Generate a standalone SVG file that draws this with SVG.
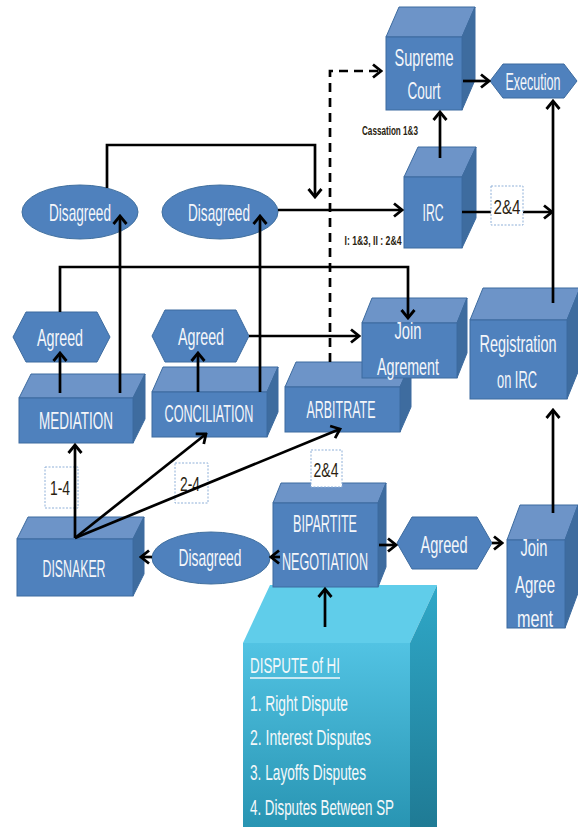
<svg xmlns="http://www.w3.org/2000/svg" width="578" height="827" viewBox="0 0 578 827">
<style>
.top{fill:#6d94c8;stroke:#3d6b9f;stroke-width:1}
.side{fill:#3e6c9f;stroke:#3d6b9f;stroke-width:1}
.front{fill:#4f81bd;stroke:#3d6b9f;stroke-width:1}
.ell{fill:#4f81bd;stroke:#41709f;stroke-width:1}
.t{font-family:"Liberation Sans Narrow","Liberation Sans",sans-serif;font-size:24px;fill:#f4f6fa;text-anchor:middle;dominant-baseline:central}
.lb{fill:#fff;stroke:#8fb0d8;stroke-width:1;stroke-dasharray:2,1.5}
.lt{font-family:"Liberation Sans Narrow","Liberation Sans",sans-serif;font-size:21px;fill:#2a1e10;text-anchor:middle;dominant-baseline:central}
.st{font-family:"Liberation Sans Narrow","Liberation Sans",sans-serif;font-size:13px;font-weight:bold;fill:#2a1e10;text-anchor:middle;dominant-baseline:central}
.ca{fill:none;stroke:#000;stroke-width:2.7;marker-end:url(#ah)}
.dt{font-family:"Liberation Sans Narrow","Liberation Sans",sans-serif;font-size:22px;fill:#f4f8fa;dominant-baseline:central}
</style>
<defs>
<marker id="ah" markerUnits="userSpaceOnUse" markerWidth="12" markerHeight="16" viewBox="0 0 12 16" refX="10" refY="8" orient="auto">
<path d="M2,1.5 L10,8 L2,14.5" fill="none" stroke="#000" stroke-width="2.8"/>
</marker>
<linearGradient id="cf" x1="0" y1="0" x2="0" y2="1"><stop offset="0" stop-color="#52c3e3"/><stop offset="1" stop-color="#2793b1"/></linearGradient>
<linearGradient id="cs" x1="0" y1="0" x2="0" y2="1"><stop offset="0" stop-color="#2fa8c8"/><stop offset="1" stop-color="#1f7a94"/></linearGradient>
</defs>

<g id="dispute">
<polygon points="243,643 270,585 437,585 410,643" fill="#60cdea"/>
<polygon points="410,643 437,585 437,830 410,830" fill="url(#cs)"/>
<rect x="243" y="643" width="167" height="190" fill="url(#cf)"/>
<text class="dt" x="250" y="665" textLength="90" lengthAdjust="spacingAndGlyphs">DISPUTE  of HI</text>
<line x1="250" y1="678" x2="340" y2="678" stroke="#f4f8fa" stroke-width="1.5"/>
<text class="dt" x="250" y="703" textLength="98" lengthAdjust="spacingAndGlyphs">1. Right Dispute</text>
<text class="dt" x="250" y="737" textLength="121" lengthAdjust="spacingAndGlyphs">2. Interest Disputes</text>
<text class="dt" x="250" y="772" textLength="116" lengthAdjust="spacingAndGlyphs">3. Layoffs Disputes</text>
<text class="dt" x="250" y="807" textLength="144" lengthAdjust="spacingAndGlyphs">4. Disputes Between SP</text>
</g>

<g id="supreme">
<polygon class="top" points="386,37 399,7 475,7 462,37"/>
<polygon class="side" points="462,37 475,7 475,80 462,110"/>
<rect class="front" x="386" y="37" width="76" height="73"/>
<text class="t" x="424" y="57" textLength="59" lengthAdjust="spacingAndGlyphs">Supreme</text>
<text class="t" x="424" y="90" textLength="33" lengthAdjust="spacingAndGlyphs">Court</text>
</g>

<g id="execution">
<polygon class="front" points="490,81 503,64 564,64 577,81 564,98 503,98"/>
<text class="t" x="533" y="81" textLength="55" lengthAdjust="spacingAndGlyphs">Execution</text>
</g>

<g id="irc">
<polygon class="top" points="404,177 418,147 476,147 462,177"/>
<polygon class="side" points="462,177 476,147 476,218 462,248"/>
<rect class="front" x="404" y="177" width="58" height="71"/>
<text class="t" x="433" y="212" textLength="21" lengthAdjust="spacingAndGlyphs">IRC</text>
</g>

<g id="disagreed1">
<ellipse class="ell" cx="80" cy="212" rx="58" ry="27"/>
<text class="t" x="80" y="212" textLength="62" lengthAdjust="spacingAndGlyphs">Disagreed</text>
</g>
<g id="disagreed2">
<ellipse class="ell" cx="220" cy="212" rx="58" ry="27"/>
<text class="t" x="219" y="212" textLength="62" lengthAdjust="spacingAndGlyphs">Disagreed</text>
</g>

<g id="agreed1">
<polygon class="front" points="13,337 26,312 97,312 110,337 97,362 26,362"/>
<text class="t" x="60" y="337" textLength="46" lengthAdjust="spacingAndGlyphs">Agreed</text>
</g>
<g id="agreed2">
<polygon class="front" points="152,336 165,310 236,310 249,336 236,362 165,362"/>
<text class="t" x="201" y="336" textLength="46" lengthAdjust="spacingAndGlyphs">Agreed</text>
</g>

<g id="mediation">
<polygon class="top" points="19,398 31,374 145,374 133,398"/>
<polygon class="side" points="133,398 145,374 145,419 133,443"/>
<rect class="front" x="19" y="398" width="114" height="45"/>
<text class="t" x="76" y="420" textLength="74" lengthAdjust="spacingAndGlyphs">MEDIATION</text>
</g>

<g id="conciliation">
<polygon class="top" points="152,392 163,367 278,367 267,392"/>
<polygon class="side" points="267,392 278,367 278,412 267,437"/>
<rect class="front" x="152" y="392" width="115" height="45"/>
<text class="t" x="209" y="413" textLength="89" lengthAdjust="spacingAndGlyphs">CONCILIATION</text>
</g>

<g id="arbitrate">
<polygon class="top" points="285,387 296,362 411,362 400,387"/>
<polygon class="side" points="400,387 411,362 411,407 400,432"/>
<rect class="front" x="285" y="387" width="115" height="45"/>
<text class="t" x="341" y="409" textLength="69" lengthAdjust="spacingAndGlyphs">ARBITRATE</text>
</g>

<g id="join1">
<polygon class="top" points="362,323 372,298 467,298 457,323"/>
<polygon class="side" points="457,323 467,298 467,353 457,378"/>
<rect class="front" x="362" y="323" width="95" height="55"/>
<text class="t" x="408" y="330" textLength="27" lengthAdjust="spacingAndGlyphs">Join</text>
<text class="t" x="408" y="366" textLength="62" lengthAdjust="spacingAndGlyphs">Agrement</text>
</g>

<g id="registration">
<polygon class="top" points="470,320 483,288 580,288 567,320"/>
<polygon class="side" points="567,320 580,288 580,367 567,399"/>
<rect class="front" x="470" y="320" width="97" height="79"/>
<text class="t" x="518" y="343" textLength="77" lengthAdjust="spacingAndGlyphs">Registration</text>
<text class="t" x="517" y="379" textLength="40" lengthAdjust="spacingAndGlyphs">on IRC</text>
</g>

<g id="disnaker">
<polygon class="top" points="17,539 28,517 144,517 133,539"/>
<polygon class="side" points="133,539 144,517 144,574 133,596"/>
<rect class="front" x="17" y="539" width="116" height="57"/>
<text class="t" x="74" y="568" textLength="63" lengthAdjust="spacingAndGlyphs">DISNAKER</text>
</g>

<g id="disagreed3">
<ellipse class="ell" cx="211" cy="558" rx="59" ry="26"/>
<text class="t" x="210" y="557" textLength="63" lengthAdjust="spacingAndGlyphs">Disagreed</text>
</g>

<g id="bipartite">
<polygon class="top" points="273,503 281,483 386,483 378,503"/>
<polygon class="side" points="378,503 386,483 386,567 378,587"/>
<rect class="front" x="273" y="503" width="105" height="84"/>
<text class="t" x="325" y="523" textLength="64" lengthAdjust="spacingAndGlyphs">BIPARTITE</text>
<text class="t" x="325" y="561" textLength="86" lengthAdjust="spacingAndGlyphs">NEGOTIATION</text>
</g>

<g id="agreed3">
<polygon class="front" points="397,543 412,517 477,517 492,543 477,569 412,569"/>
<text class="t" x="444" y="544" textLength="47" lengthAdjust="spacingAndGlyphs">Agreed</text>
</g>

<g id="join2">
<polygon class="top" points="507,540 520,505 578,505 565,540"/>
<polygon class="side" points="565,540 578,505 578,593 565,628"/>
<rect class="front" x="507" y="540" width="58" height="88"/>
<text class="t" x="534" y="547" textLength="27" lengthAdjust="spacingAndGlyphs">Join</text>
<text class="t" x="535" y="584" textLength="40" lengthAdjust="spacingAndGlyphs">Agree</text>
<text class="t" x="535" y="618" textLength="36" lengthAdjust="spacingAndGlyphs">ment</text>
</g>

<g id="label-1-4">
<rect class="lb" x="45" y="467" width="33" height="41"/>
<text class="lt" x="60" y="487" textLength="20" lengthAdjust="spacingAndGlyphs">1-4</text>
</g>
<g id="label-2-4">
<rect class="lb" x="175" y="463" width="33" height="40"/>
<text class="lt" x="190" y="483" textLength="20" lengthAdjust="spacingAndGlyphs">2-4</text>
</g>
<g id="label-2and4-bottom">
<rect class="lb" x="311" y="450" width="31" height="37"/>
<text class="lt" x="326" y="469" textLength="25" lengthAdjust="spacingAndGlyphs">2&amp;4</text>
</g>

<g id="connectors">
<path class="ca" d="M330,362 V71 H381" stroke-dasharray="9,6"/>
<path class="ca" d="M463,81 H489"/>
<path class="ca" d="M440,158 V112"/>
<path class="ca" d="M553,303 V101"/>
<path class="ca" d="M462,212 H552"/>
<path class="ca" d="M107,188 V145 H315 V197"/>
<path class="ca" d="M278,210 H402"/>
<path class="ca" d="M120,393 V216"/>
<path class="ca" d="M260,392 V216"/>
<path class="ca" d="M60,312 V267 H408 V318"/>
<path class="ca" d="M60,393 V353"/>
<path class="ca" d="M198,392 V353"/>
<path class="ca" d="M249,336 H359"/>
<path class="ca" d="M75,538 V445"/>
<path class="ca" d="M75,538 L206,434"/>
<path class="ca" d="M75,538 L340,429"/>
<path class="ca" d="M152,557 H141"/>
<path class="ca" d="M280,557 H271"/>
<path class="ca" d="M379,545 H396"/>
<path class="ca" d="M492,543 H502"/>
<path class="ca" d="M553,513 V410"/>
<path class="ca" d="M325,627 V589"/>
</g>

<g id="label-2and4-irc">
<rect class="lb" x="491" y="186" width="32" height="39"/>
<text class="lt" x="507" y="206" textLength="27" lengthAdjust="spacingAndGlyphs">2&amp;4</text>
</g>
<g id="label-cassation">
<text class="st" x="390" y="130" textLength="56" lengthAdjust="spacingAndGlyphs">Cassation 1&amp;3</text>
</g>
<g id="label-irc-types">
<text class="st" x="373" y="240" textLength="57" lengthAdjust="spacingAndGlyphs">I: 1&amp;3, II : 2&amp;4</text>
</g>
</svg>
